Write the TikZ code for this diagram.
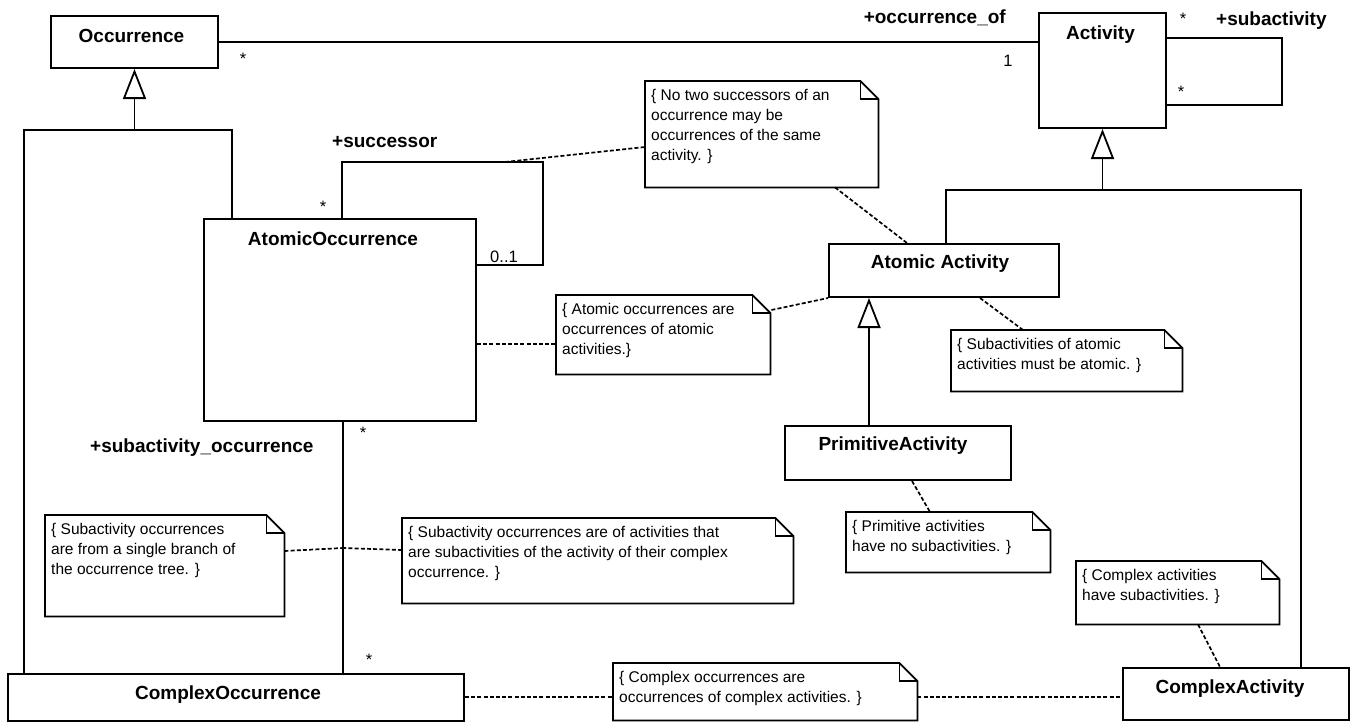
\documentclass[tikz,border=0pt]{standalone}
\usepackage{fontspec}
\setmainfont{Liberation Sans}
\usetikzlibrary{arrows.meta,calc}

% body of a constraint note: fixed size, text starting at the top left
\newcommand{\notetext}[3]{\parbox[c][#2][t]{#1}{\raggedright\leftskip=6pt\rule{0pt}{19pt}#3}}
% outline of a note with a folded top right corner
\newcommand{\notedraw}[1]{%
  \draw[noteline] (#1.north west) -- ([xshift=-18pt]#1.north east)
    -- ([yshift=-18pt]#1.north east) -- (#1.south east) -- (#1.south west) -- cycle;
  \draw[noteline] ([xshift=-18pt]#1.north east) |- ([yshift=-18pt]#1.north east);}

\begin{document}
\begin{tikzpicture}[x=1pt,y=-1pt,
  classbox/.style={draw, line width=2pt, rectangle, anchor=north west, inner sep=0pt},
  classname/.style={font=\fontsize{19}{22}\selectfont\bfseries, anchor=base, inner sep=0pt},
  role/.style={font=\fontsize{19}{22}\selectfont\bfseries, inner sep=0pt},
  mult/.style={font=\fontsize{16.5}{18}\selectfont, anchor=base, inner sep=0pt},
  assoc/.style={line width=1.8pt},
  gen/.style={line width=1.8pt, -{Triangle[open, width=23pt, length=30pt, line width=1.8pt]}},
  notebox/.style={anchor=north west, inner sep=0pt, font=\fontsize{15.5}{20}\selectfont},
  noteline/.style={line width=1.8pt, line join=miter},
  anchorline/.style={line width=1.7pt, dash pattern=on 4pt off 2.2pt},
]
\fill[white] (0,0) rectangle (1354,723);
\useasboundingbox (0,0) rectangle (1354,723);

% ---- classes ----
\node[classbox, minimum width=167pt, minimum height=52pt]  (occ)  at (50,15)   {};
\node[classbox, minimum width=127pt, minimum height=115pt] (act)  at (1038,12) {};
\node[classbox, minimum width=272pt, minimum height=202pt] (aocc) at (203,218) {};
\node[classbox, minimum width=230pt, minimum height=53pt]  (aact) at (828,243) {};
\node[classbox, minimum width=226pt, minimum height=54pt]  (prim) at (784,425) {};
\node[classbox, minimum width=226pt, minimum height=52pt]  (cact) at (1122,667) {};
\node[classbox, minimum width=456pt, minimum height=47pt]  (cocc) at (7,673)   {};

\node[classname] (occ-name)  at ($(occ.north)+(-3,27)$)  {Occurrence};
\node[classname] (act-name)  at ($(act.north)+(-2,27)$)  {Activity};
\node[classname] (aocc-name) at ($(aocc.north)+(-7,27)$) {AtomicOccurrence};
\node[classname] (aact-name) at ($(aact.north)+(-4,25)$) {Atomic Activity};
\node[classname] (prim-name) at ($(prim.north)+(-5,25)$) {PrimitiveActivity};
\node[classname] (cact-name) at ($(cact.north)+(-6,26)$) {ComplexActivity};
\node[classname] (cocc-name) at ($(cocc.north)+(-8,26)$) {ComplexOccurrence};

% ---- notes ----
\node[notebox] (nTop)  at (645,81)  {\notetext{233pt}{106pt}{\{ No two successors of an\\occurrence may be\\occurrences of the same\\activity. \}}};
\node[notebox] (nAtom) at (556,295) {\notetext{214pt}{79pt}{\{ Atomic occurrences are\\occurrences of atomic\\activities.\}}};
\node[notebox] (nSubA) at (951,330) {\notetext{231pt}{61pt}{\{ Subactivities of atomic\\activities must be atomic. \}}};
\node[notebox] (nPrim) at (846,512) {\notetext{204pt}{60pt}{\{ Primitive activities\\have no subactivities. \}}};
\node[notebox] (nCAct) at (1076,561) {\notetext{203pt}{63pt}{\{ Complex activities\\have subactivities. \}}};
\node[notebox] (nCOcc) at (613,663) {\notetext{304pt}{57pt}{\{ Complex occurrences are\\occurrences of complex activities. \}}};
\node[notebox] (nLeft) at (45,515)  {\notetext{239pt}{101pt}{\{ Subactivity occurrences\\are from a single branch of\\the occurrence tree. \}}};
\node[notebox] (nMid)  at (402,518) {\notetext{391pt}{85pt}{\{ Subactivity occurrences are of activities that\\are subactivities of the activity of their complex\\occurrence. \}}};
\foreach \n in {nTop,nAtom,nSubA,nPrim,nCAct,nCOcc,nLeft,nMid} {\notedraw{\n}}

% ---- generalizations ----
\coordinate (occJ) at ($(occ.south)+(0,61)$);
\draw[assoc] ($(aocc.north west)+(29,0)$) |- (occJ);
\draw[assoc] ($(cocc.north west)+(17,0)$) |- (occJ);
\draw[gen] (occJ) -- (occ.south);

\coordinate (actJ) at ($(act.south)+(0,61)$);
\draw[assoc] ($(aact.north west)+(118,0)$) |- (actJ);
\draw[assoc] ($(cact.north west)+(179,0)$) |- (actJ);
\draw[gen] (actJ) -- (act.south);

\draw[gen] ($(prim.north west)+(85,0)$) -- ($(aact.south west)+(41,0)$);

% ---- associations ----
\draw[assoc] (occ.east) -- (occ.east -| act.west);
\draw[assoc] ($(act.north east)+(0,26)$) -| ($(act.north east)+(115,93)$) -- ($(act.north east)+(0,93)$);
\draw[assoc] ($(aocc.north west)+(139,0)$) |- ($(aocc.north west)+(340,-56)$) |- ($(aocc.north east)+(0,47)$);
\draw[assoc] ($(aocc.south west)+(140,0)$) -- ($(cocc.north west)+(336,0)$);
\coordinate (succPt) at ($(aocc.north west)+(302,-56)$);
\coordinate (subPt)  at ($(aocc.south west)+(140,126)$);

% ---- roles and multiplicities ----
\node[role, anchor=base east] (r-occof) at (1006,23)  {+occurrence\_of};
\node[role, anchor=base west] (r-subact) at (1216,25) {+subactivity};
\node[role, anchor=base west] (r-succ)  at (332,147)  {+successor};
\node[role, anchor=base west] (r-subocc) at (90,452)  {+subactivity\_occurrence};

\node[mult] (m-occ)   at (243,64)   {*};
\node[mult] (m-act)   at (1008,66)  {1};
\node[mult] (m-sa1)   at (1183,24)  {*};
\node[mult] (m-sa2)   at (1181,97)  {*};
\node[mult] (m-succ1) at (323,212)  {*};
\node[mult] (m-succ2) at (504,262)  {0..1};
\node[mult] (m-so1)   at (363,438)  {*};
\node[mult] (m-so2)   at (369,665)  {*};

% ---- note anchors ----
\draw[anchorline] (succPt) -- ($(nTop.north west)+(0,66)$);
\draw[anchorline] ($(nTop.south west)+(190,0)$) -- ($(aact.north west)+(79,0)$);
\draw[anchorline] ($(aocc.north east)+(0,126)$) -- ($(nAtom.north west)+(0,49)$);
\draw[anchorline] ($(nAtom.north east)+(1,15)$) -- (aact.south west);
\draw[anchorline] ($(aact.south west)+(152,0)$) -- ($(nSubA.north west)+(72,0)$);
\draw[anchorline] ($(prim.south west)+(128,0)$) -- ($(nPrim.north west)+(84,0)$);
\draw[anchorline] ($(nCAct.south west)+(122,0)$) -- ($(cact.north west)+(98,0)$);
\draw[anchorline] ($(cocc.north east)+(0,24)$) -- ($(nCOcc.north west)+(0,34)$);
\draw[anchorline] ($(nCOcc.north east)+(0,34)$) -- ($(cact.north west)+(0,30)$);
\draw[anchorline] ($(nLeft.north east)+(0,36)$) -- (subPt);
\draw[anchorline] ($(nMid.north west)+(0,32)$) -- (subPt);
\end{tikzpicture}
\end{document}
